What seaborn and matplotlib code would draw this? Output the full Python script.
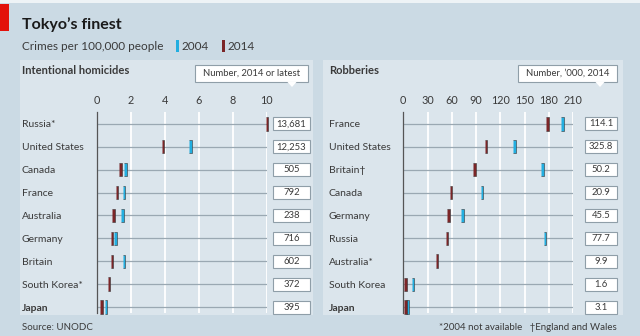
import numpy as np
import pandas as pd
import matplotlib
matplotlib.use("Agg")
import matplotlib.pyplot as plt
import seaborn as sns
from matplotlib.patches import Rectangle, Polygon
from matplotlib.transforms import blended_transform_factory

# ---------------- data ----------------
hom_countries = ["Russia*", "United States", "Canada", "France", "Australia",
                 "Germany", "Britain", "South Korea*", "Japan"]
hom_2004 = [np.nan, 5.5, 1.7, 1.6, 1.5, 1.1, 1.6, np.nan, 0.55]
hom_2014 = [10.0, 3.9, 1.4, 1.2, 1.0, 0.9, 0.9, 0.7, 0.3]
hom_numbers = ["13,681", "12,253", "505", "792", "238", "716", "602", "372", "395"]
hom_ticks = [0, 2, 4, 6, 8, 10]

rob_countries = ["France", "United States", "Britain\u2020", "Canada", "Germany",
                 "Russia", "Australia*", "South Korea", "Japan"]
rob_2004 = [197, 137, 172, 97, 73, 175, np.nan, 12, 5]
rob_2014 = [178, 102, 88, 59, 56, 54, 42, 3, 2.5]
rob_numbers = ["114.1", "325.8", "50.2", "20.9", "45.5", "77.7", "9.9", "1.6", "3.1"]
rob_ticks = [0, 30, 60, 90, 120, 150, 180, 210]

years = ["2004", "2014"]
BLUE = "#22aee0"
RED = "#7b2527"
palette = {"2004": BLUE, "2014": RED}

OUTER = "#cbdae4"
PANEL = "#dbe5ec"
TEXT = "#3a3a3a"

sns.set_theme(style="white")
plt.rcParams["font.family"] = ["Lato", "DejaVu Sans"]

W, H = 640, 336
fig = plt.figure(figsize=(6.4, 3.36), dpi=100)
fig.patch.set_facecolor(OUTER)


def fx(px):
    return px / W


def fy(py):
    return 1 - py / H


# panels background
for x0, x1 in [(20, 313), (323, 623)]:
    fig.add_artist(Rectangle((fx(x0), fy(315)), fx(x1 - x0), (315 - 60) / H,
                             transform=fig.transFigure, facecolor=PANEL,
                             edgecolor="none", zorder=0))
# top white strip and red tag
fig.add_artist(Rectangle((0, fy(3)), 1, 3 / H, transform=fig.transFigure,
                         facecolor="#eef3f6", edgecolor="none", zorder=0))
fig.add_artist(Rectangle((0, fy(31)), fx(9), 27 / H, transform=fig.transFigure,
                         facecolor="#e3120b", edgecolor="none", zorder=1))

# titles
fig.text(fx(22), fy(25), "Tokyo\u2019s finest", fontsize=11.5, fontweight="bold",
         color="#1a1a1a", va="center", ha="left")
fig.text(fx(22), fy(46), "Crimes per 100,000 people", fontsize=8.5, color=TEXT,
         va="center", ha="left")
# legend keys
for xk, lab in [(176, "2004"), (222, "2014")]:
    fig.add_artist(Rectangle((fx(xk), fy(52)), fx(3), 12 / H, transform=fig.transFigure,
                             facecolor=palette[lab], edgecolor="none"))
    fig.text(fx(xk + 6), fy(46), lab, fontsize=8.5, color=TEXT, va="center", ha="left")

fig.text(fx(22), fy(70), "Intentional homicides", fontsize=8, fontweight="bold",
         color=TEXT, va="center", ha="left")
fig.text(fx(329), fy(70), "Robberies", fontsize=8, fontweight="bold",
         color=TEXT, va="center", ha="left")


def header_box(x0, x1, text, tip_x):
    y0, y1 = 65, 82
    fig.add_artist(Rectangle((fx(x0), fy(y1)), fx(x1 - x0), (y1 - y0) / H,
                             transform=fig.transFigure, facecolor="white",
                             edgecolor="#8f9ea8", linewidth=0.8, zorder=3))
    fig.add_artist(Polygon([(fx(tip_x - 5), fy(y1 - 0.5)), (fx(tip_x + 5), fy(y1 - 0.5)),
                            (fx(tip_x), fy(y1 + 5))], closed=True,
                           transform=fig.transFigure, facecolor="white",
                           edgecolor="none", zorder=4))
    fig.text(fx((x0 + x1) / 2), fy((y0 + y1) / 2), text, fontsize=6.8, color=TEXT,
             ha="center", va="center", zorder=5)


header_box(195, 308, "Number, 2014 or latest", 292)
header_box(518, 617, "Number, \u2019000, 2014", 600)

# footnotes
fig.text(fx(22), fy(327), "Source: UNODC", fontsize=7, color=TEXT, va="center", ha="left")
fig.text(fx(617), fy(327), "*2004 not available   \u2020England and Wales", fontsize=7,
         color=TEXT, va="center", ha="right")

bar_marker = [(-1, -5), (1, -5), (1, 5), (-1, 5)]

ax_top, ax_bot = 112, 313


def make_panel(x0_px, countries, v04, v14, numbers, ticks, xmax,
               box_x0, box_x1):
    ax = fig.add_axes([fx(x0_px), fy(ax_bot), fx(170), (ax_bot - ax_top) / H])
    ax.set_facecolor("none")
    df = pd.DataFrame({
        "country": countries * 2,
        "year": ["2004"] * len(countries) + ["2014"] * len(countries),
        "value": list(v04) + list(v14),
    }).dropna()
    # horizontal row lines
    for i in range(len(countries)):
        ax.plot([0, xmax], [i, i], color="#9aa8b2", lw=0.9, zorder=1)
    sns.stripplot(data=df, x="value", y="country", hue="year", order=countries,
                  hue_order=years, palette=palette, jitter=False, dodge=False,
                  marker=bar_marker, size=9.5, linewidth=0.4, edgecolor="#333333",
                  legend=False, ax=ax, zorder=3, clip_on=False)
    ax.set_xlim(0, xmax)
    ax.set_ylim(len(countries) - 1 + 0.26, -0.52)
    ax.set_xticks(ticks)
    ax.xaxis.tick_top()
    ax.tick_params(axis="x", length=0, pad=4, labelsize=7.8, labelcolor=TEXT)
    ax.tick_params(axis="y", length=0, pad=(x0_px - (22 if x0_px < 300 else 329)) * 0.72,
                   labelsize=7.5, labelcolor=TEXT)
    for lab in ax.get_yticklabels():
        lab.set_horizontalalignment("left")
        if lab.get_text() == "Japan":
            lab.set_fontweight("bold")
    ax.set_xlabel("")
    ax.set_ylabel("")
    ax.grid(False)
    for t in ticks[1:]:
        ax.axvline(t, color="white", lw=1.3, zorder=0)
    for s in ["top", "right", "bottom"]:
        ax.spines[s].set_visible(False)
    ax.spines["left"].set_color("#555555")
    ax.spines["left"].set_linewidth(0.9)
    # value boxes
    tr = blended_transform_factory(ax.transAxes, ax.transData)
    bx0 = (box_x0 - x0_px) / 170
    bw = (box_x1 - box_x0) / 170
    bh = 13 / 22.875
    for i, num in enumerate(numbers):
        ax.add_patch(Rectangle((bx0, i - bh / 2), bw, bh, transform=tr,
                               facecolor="white", edgecolor="#8f9ea8", lw=0.8,
                               clip_on=False, zorder=4))
        ax.text(bx0 + bw / 2, i, num, transform=tr, ha="center", va="center",
                fontsize=6.8, color=TEXT, zorder=5, clip_on=False)
    return ax


make_panel(96.7, hom_countries, hom_2004, hom_2014, hom_numbers, hom_ticks, 10,
           273, 310)
make_panel(403.3, rob_countries, rob_2004, rob_2014, rob_numbers, rob_ticks, 210,
           585, 617)

fig.savefig("out.png", dpi=100, facecolor=fig.get_facecolor())
